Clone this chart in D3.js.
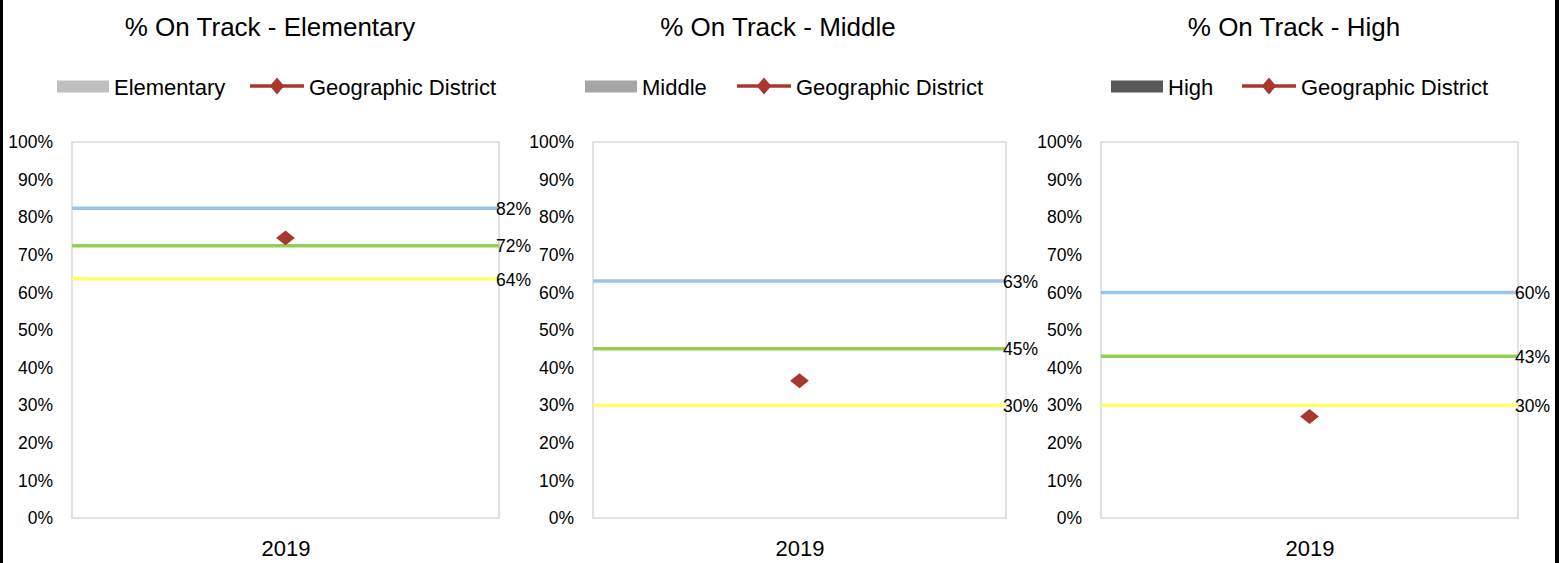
<!DOCTYPE html>
<html>
<head>
<meta charset="utf-8">
<script src="https://cdn.jsdelivr.net/npm/d3@7"></script>
<style>
  body { margin: 0; background: #fff; }
  text { font-family: "Liberation Sans", Arial, sans-serif; fill: #000; }
</style>
</head>
<body>
<script>
// chart data
var titles = ["% On Track - Elementary", "% On Track - Middle", "% On Track - High"],
    levels = ["Elementary", "Middle", "High"],
    levelColors = ["#bfbfbf", "#a6a6a6", "#595959"],
    years = ["2019"],
    blueValues = [0.824, 0.63, 0.60],
    greenValues = [0.724, 0.45, 0.43],
    yellowValues = [0.636, 0.30, 0.30],
    districtValues = [0.745, 0.365, 0.27],
    yTicks = [0, 0.1, 0.2, 0.3, 0.4, 0.5, 0.6, 0.7, 0.8, 0.9, 1];

var W = 1564, H = 563,
    plotTop = 142, plotBottom = 518,
    plotLeft = [72, 593, 1101],
    plotRight = [499, 1006, 1518],
    titleX = [270, 778, 1294],
    legRect = [57, 585, 1111],
    legLine = [250, 737, 1242],
    refLines = [
        {values: blueValues, color: "#9dc3e6"},
        {values: greenValues, color: "#92d050"},
        {values: yellowValues, color: "#ffff66"}
    ],
    pct = d3.format(".0%"),
    red = "#a9372f";

var svg = d3.select("body").append("svg").attr("width", W).attr("height", H);

// outer frame edges
svg.append("line").attr("x1", 1.5).attr("x2", 1.5).attr("y1", 0).attr("y2", H)
    .attr("stroke", "#000").attr("stroke-width", 3);
svg.append("line").attr("x1", 1557).attr("x2", 1557).attr("y1", 0).attr("y2", H)
    .attr("stroke", "#000").attr("stroke-width", 4);

levels.forEach(function(level, i) {
    var x = d3.scalePoint().domain(years).range([plotLeft[i], plotRight[i]]).padding(0.5),
        y = d3.scaleLinear().domain([0, 1]).range([plotBottom, plotTop]),
        g = svg.append("g");

    // title
    g.append("text").attr("x", titleX[i]).attr("y", 36)
        .attr("text-anchor", "middle").style("font-size", "26px").text(titles[i]);

    // legend
    g.append("rect").attr("x", legRect[i]).attr("y", 80.5).attr("width", 52).attr("height", 12)
        .attr("fill", levelColors[i]);
    g.append("text").attr("x", legRect[i] + 57).attr("y", 95)
        .style("font-size", "22px").text(level);
    g.append("line").attr("x1", legLine[i]).attr("x2", legLine[i] + 54).attr("y1", 86).attr("y2", 86)
        .attr("stroke", red).attr("stroke-width", 3.5);
    g.append("path").attr("d", d3.symbol(d3.symbolSquare, 144)())
        .attr("transform", "translate(" + (legLine[i] + 27) + ",86) scale(0.85,1) rotate(45)")
        .attr("fill", red);
    g.append("text").attr("x", legLine[i] + 59).attr("y", 95)
        .style("font-size", "22px").text("Geographic District");

    // plot frame
    g.append("rect").attr("x", plotLeft[i]).attr("y", plotTop)
        .attr("width", plotRight[i] - plotLeft[i]).attr("height", plotBottom - plotTop)
        .attr("fill", "none").attr("stroke", "#d9d9d9").attr("stroke-width", 1.5);

    // y axis
    var yAxis = g.append("g").attr("transform", "translate(" + (plotLeft[i] - 17) + ",0)")
        .call(d3.axisLeft(y).tickValues(yTicks).tickFormat(pct).tickSize(0).tickPadding(2));
    yAxis.select(".domain").remove();
    yAxis.selectAll("text").style("font-size", "17.5px").style("font-family", "Liberation Sans, Arial, sans-serif").attr("fill", "#000");

    // x axis
    var xAxis = g.append("g").attr("transform", "translate(0," + plotBottom + ")")
        .call(d3.axisBottom(x).tickSize(0).tickPadding(22));
    xAxis.select(".domain").remove();
    xAxis.selectAll("text").style("font-size", "22px").style("font-family", "Liberation Sans, Arial, sans-serif").attr("fill", "#000");

    // reference lines
    refLines.forEach(function(r) {
        var v = r.values[i];
        g.append("line").attr("x1", plotLeft[i]).attr("x2", plotRight[i])
            .attr("y1", y(v)).attr("y2", y(v))
            .attr("stroke", r.color).attr("stroke-width", 3.5);
        g.append("text").attr("x", plotRight[i] - 3).attr("y", y(v)).attr("dy", "0.38em")
            .style("font-size", "17.5px").text(pct(v));
    });

    // district marker
    g.selectAll(".dist").data([districtValues[i]]).enter().append("path")
        .attr("d", d3.symbol(d3.symbolSquare, 112)())
        .attr("transform", function(d) { return "translate(" + x(years[0]) + "," + y(d) + ") scale(1.25,1) rotate(45)"; })
        .attr("fill", red);
});
</script>
</body>
</html>
